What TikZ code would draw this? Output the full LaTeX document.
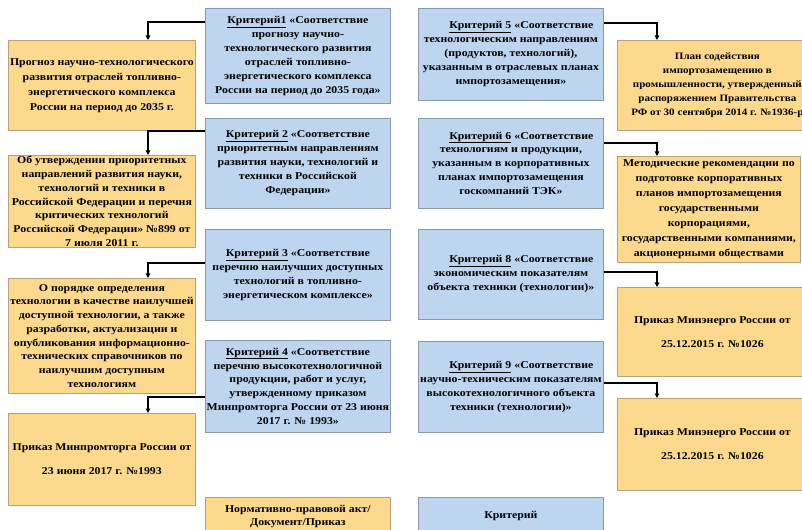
\documentclass[tikz,border=0pt]{standalone}
\usepackage{fontspec}
\setmainfont{Liberation Serif}[FakeStretch=1.13]
\usetikzlibrary{arrows.meta,calc}

\definecolor{docfill}{HTML}{FCD98D}
\definecolor{docline}{HTML}{B8A27A}
\definecolor{critfill}{HTML}{BDD5EE}
\definecolor{critline}{HTML}{8A98A8}

\tikzset{
  every node/.style={anchor=north west, align=center, inner sep=1bp},
  docbox/.style={fill=docfill, draw=docline, line width=0.8pt,
    font=\bfseries\fontsize{10.5}{13.8}\selectfont},
  critbox/.style={fill=critfill, draw=critline, line width=0.8pt,
    minimum width=185bp, font=\bfseries\fontsize{10.5}{14}\selectfont},
  sparse/.style={font=\bfseries\fontsize{10.5}{24}\selectfont},
  roomy/.style={font=\bfseries\fontsize{10.5}{15}\selectfont},
  conn/.style={line width=1.1pt, -{Triangle[length=4.5bp,width=4.5bp]}},
}
\newcommand{\crit}[1]{\underline{Критерий~#1}}

\begin{document}
\begin{tikzpicture}[x=1bp, y=-1bp]
  \useasboundingbox (0,0) rectangle (802,530);

  % left column: documents
  \node[docbox, roomy, minimum width=187bp, minimum height=90bp] (Y1) at (8,40)
    {Прогноз научно-технологического\\развития отраслей топливно-\\энергетического комплекса\\России на период до 2035 г.};
  \node[docbox, minimum width=187bp, minimum height=92bp] (Y2) at (8,155)
    {Об утверждении приоритетных\\направлений развития науки,\\технологий и техники в\\Российской Федерации и перечня\\критических технологий\\Российской Федерации» №899 от\\7 июля 2011 г.};
  \node[docbox, minimum width=187bp, minimum height=115bp] (Y3) at (8,278)
    {О порядке определения\\технологии в качестве наилучшей\\доступной технологии, а также\\разработки, актуализации и\\опубликования информационно-\\технических справочников по\\наилучшим доступным\\технологиям};
  \node[docbox, sparse, minimum width=187bp, minimum height=92bp] (Y4) at (8,413)
    {Приказ Минпромторга России от\\23 июня 2017 г. №1993};

  % first column of criteria
  \node[critbox, minimum height=95bp] (K1) at (205,8)
    {\underline{Критерий1} «Соответствие\\прогнозу научно-\\технологического развития\\отраслей топливно-\\энергетического комплекса\\России на период до 2035 года»};
  \node[critbox, minimum height=90bp] (K2) at (205,118)
    {\crit{2} «Соответствие\\приоритетным направлениям\\развития науки, технологий и\\техники в Российской\\Федерации»};
  \node[critbox, minimum height=91bp] (K3) at (205,229)
    {\crit{3} «Соответствие\\перечню наилучших доступных\\технологий в топливно-\\энергетическом комплексе»};
  \node[critbox, minimum height=92bp] (K4) at (205,340)
    {\crit{4} «Соответствие\\перечню высокотехнологичной\\продукции, работ и услуг,\\утвержденному приказом\\Минпромторга России от 23 июня\\2017 г. № 1993»};

  % second column of criteria
  \node[critbox, minimum height=92bp] (K5) at (418,8)
    {\hspace*{2em}\crit{5} «Соответствие\\технологическим направлениям\\(продуктов, технологий),\\указанным в отраслевых планах\\импортозамещения»};
  \node[critbox, minimum height=90bp] (K6) at (418,118)
    {\hspace*{2em}\crit{6} «Соответствие\\технологиям и продукции,\\указанным в корпоративных\\планах импортозамещения\\госкомпаний ТЭК»};
  \node[critbox, minimum height=90bp] (K8) at (418,229)
    {\hspace*{2em}\crit{8} «Соответствие\\экономическим показателям\\объекта техники (технологии)»};
  \node[critbox, minimum height=91bp] (K9) at (418,341)
    {\hspace*{2em}\crit{9} «Соответствие\\научно-техническим показателям\\высокотехнологичного объекта\\техники (технологии)»};

  % right column: documents
  \node[docbox, minimum width=200bp, minimum height=90bp,
        font=\bfseries\fontsize{9.8}{14}\selectfont] (Y5) at (617,40)
    {План содействия\\импортозамещению в\\промышленности, утвержденный\\распоряжением Правительства\\РФ от 30 сентября 2014 г. №1936-р};
  \node[docbox, roomy, minimum width=183bp, minimum height=106bp] (Y6) at (617,156)
    {Методические рекомендации по\\подготовке корпоративных\\планов импортозамещения\\государственными\\корпорациями,\\государственными компаниями,\\акционерными обществами};
  \node[docbox, sparse, minimum width=190bp, minimum height=89bp] (Y8) at (617,287)
    {Приказ Минэнерго России от\\25.12.2015 г. №1026};
  \node[docbox, sparse, minimum width=190bp, minimum height=92bp] (Y9) at (617,398)
    {Приказ Минэнерго России от\\25.12.2015 г. №1026};

  % legend
  \node[docbox, minimum width=185bp, minimum height=38bp] (LY) at (205,497)
    {Нормативно-правовой акт/\\Документ/Приказ};
  \node[critbox, minimum height=38bp] (LK) at (418,497)
    {Критерий};

  % connectors
  \draw[conn] ($(K1.north west)+(0,14)$) -| ($(Y1.north west)+(140,0)$);
  \draw[conn] ($(K2.north west)+(0,13)$) -| ($(Y2.north west)+(140,0)$);
  \draw[conn] ($(K3.north west)+(0,34)$) -| ($(Y3.north west)+(140,0)$);
  \draw[conn] ($(K4.north west)+(0,57)$) -| ($(Y4.north west)+(140,0)$);
  \draw[conn] ($(K5.north east)+(0,15)$) -| ($(Y5.north west)+(40,0)$);
  \draw[conn] ($(K6.north east)+(0,25)$) -| ($(Y6.north west)+(40,0)$);
  \draw[conn] ($(K8.north east)+(0,43)$) -| ($(Y8.north west)+(40,0)$);
  \draw[conn] ($(K9.north east)+(0,42)$) -| ($(Y9.north west)+(40,0)$);
\end{tikzpicture}
\end{document}
